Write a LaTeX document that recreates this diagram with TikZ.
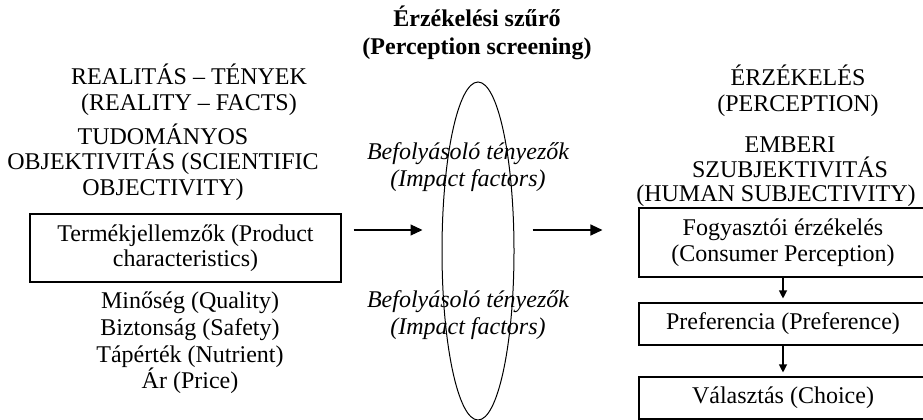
\documentclass[tikz,border=0pt]{standalone}
\usepackage{fontspec}
\setmainfont{Liberation Serif}
\usepackage{tikz}
\usetikzlibrary{shapes.geometric,arrows.meta,positioning,calc}

\tikzset{
  labeltext/.style={inner sep=0pt, align=center, font=\fontsize{24}{25.5}\selectfont},
  framebox/.style={labeltext, draw, line width=1.1pt},
  flowarrow/.style={line width=1.1pt, -{Triangle[length=12pt,width=11pt]}},
  stepdown/.style={line width=1.1pt, -{Triangle[length=8pt,width=8pt]}, shorten >=4pt}
}

\begin{document}
\begin{tikzpicture}[x=1pt,y=-1pt]
  \useasboundingbox (0,0) rectangle (923,420);
  \clip (0,0) rectangle (923,420);

  % left side: reality
  \node[labeltext] (reality) at (189,90) {REALITÁS – TÉNYEK\\(REALITY – FACTS)};
  \node[labeltext] (science) at (163,162) {TUDOMÁNYOS\\OBJEKTIVITÁS (SCIENTIFIC\\OBJECTIVITY)};
  \node[framebox, minimum width=311pt, minimum height=68pt] (product) at (185.5,248)
    {Termékjellemzők (Product\\characteristics)};
  \node[labeltext, font=\fontsize{24}{26.7}\selectfont] (attributes) at (190,343)
    {Minőség (Quality)\\Biztonság (Safety)\\Tápérték (Nutrient)\\Ár (Price)};

  % middle: the filter
  \node[labeltext, font=\fontsize{24}{28}\selectfont\bfseries] (screening) at (477,33)
    {Érzékelési szűrő\\(Perception screening)};
  \node[draw, ellipse, line width=1pt, minimum width=72pt, minimum height=338pt] (filter) at (478,251) {};
  \node[labeltext, font=\fontsize{24}{27}\selectfont\itshape] (impactA) at (468,167)
    {Befolyásoló tényezők\\(Impact factors)};
  \node[labeltext, font=\fontsize{24}{27}\selectfont\itshape] (impactB) at (468,315)
    {Befolyásoló tényezők\\(Impact factors)};

  % right side: perception
  \node[labeltext] (perception) at (798,91) {ÉRZÉKELÉS\\(PERCEPTION)};
  \node[labeltext] (subjectivity) at (790,157.5) {EMBERI\\SZUBJEKTIVITÁS};
  \node[labeltext] (human) at (776,196) {(HUMAN SUBJECTIVITY)};
  \node[framebox, minimum width=288pt, minimum height=69pt] (consumer) at (783,242.5)
    {Fogyasztói érzékelés\\(Consumer Perception)};
  \node[framebox, minimum width=288pt, minimum height=42pt] (preference) at (783,324)
    {Preferencia (Preference)};
  \node[framebox, minimum width=288pt, minimum height=42pt] (choice) at (783,398)
    {Választás (Choice)};

  % connectors
  \coordinate (arrowrow) at (0,230);
  \draw[flowarrow, shorten <=12pt, shorten >=19pt] (product.east |- arrowrow) -- (filter.west |- arrowrow);
  \draw[flowarrow, shorten <=18pt, shorten >=36pt] (filter.east |- arrowrow) -- (consumer.west |- arrowrow);
  \draw[stepdown] (consumer) -- (preference);
  \draw[stepdown] (preference) -- (choice);
\end{tikzpicture}
\end{document}
